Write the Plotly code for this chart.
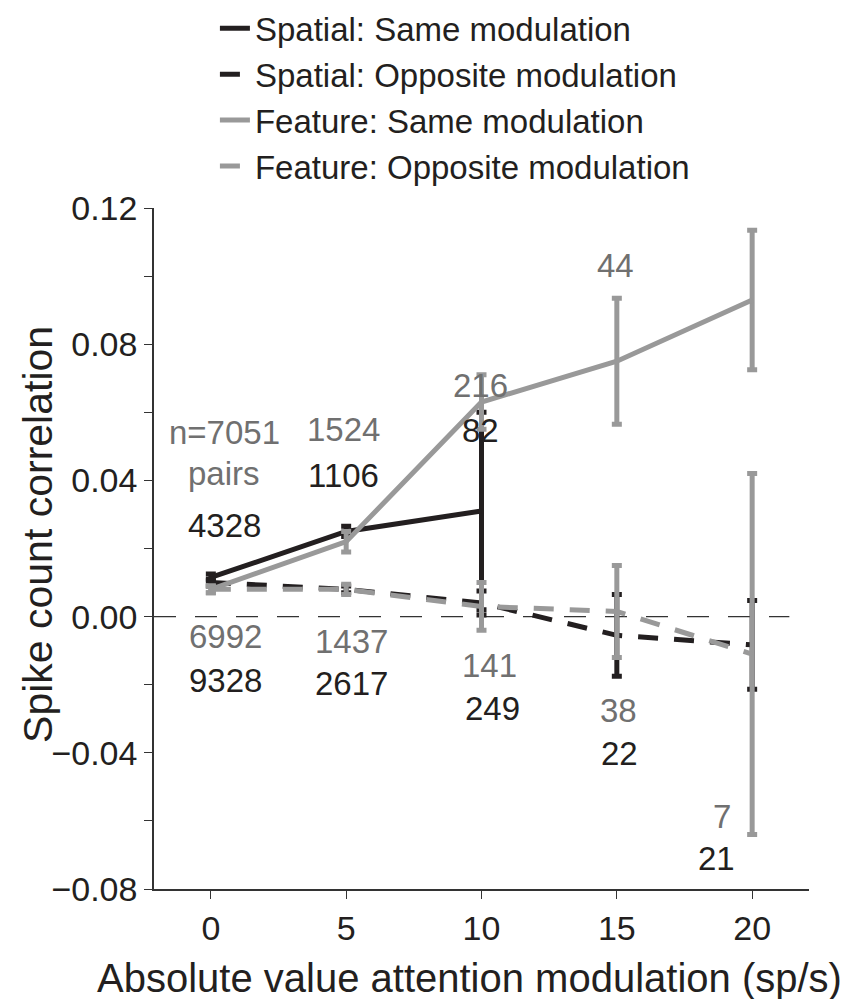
import plotly.graph_objects as go

# Attention modulation bins (sp/s)
x_bins = [0, 5, 10, 15, 20]

# Spike count correlation means and error bar half-widths
spatial_same_x = [0, 5, 10]
spatial_same_y = [0.0115, 0.025, 0.031]
spatial_same_err = [0.001, 0.0015, 0.029]

spatial_opp_y = [0.010, 0.008, 0.004, -0.0055, -0.0083]
spatial_opp_err = [0.001, 0.001, 0.0035, 0.012, 0.013]

feature_same_y = [0.008, 0.022, 0.063, 0.075, 0.093]
feature_same_err = [0.001, 0.003, 0.008, 0.0185, 0.0205]

feature_opp_y = [0.008, 0.008, 0.003, 0.0015, -0.011]
feature_opp_err = [0.001, 0.0015, 0.007, 0.0135, 0.053]

# pair counts printed on the chart
count_x = [0.5, 0.5, 0.5, 4.9, 4.9, 9.95, 9.95, 14.95, 19.9,
           0.55, 0.55, 5.2, 5.2, 10.3, 10.4, 15.05, 15.1, 18.9, 18.7]
count_y = [0.054, 0.042, 0.0267, 0.055, 0.0414, 0.0678, 0.0546, 0.103, 0.1232,
           -0.0059, -0.0188, -0.0073, -0.0197, -0.0144, -0.027, -0.0276, -0.0402, -0.0587, -0.071]
count_text = ["n=7051", "pairs", "4328", "1524", "1106", "216", "82", "44", "14",
              "6992", "9328", "1437", "2617", "141", "249", "38", "22", "7", "21"]
count_group = ["feature", "feature", "spatial", "feature", "spatial", "feature", "spatial", "feature", "feature",
               "feature", "spatial", "feature", "spatial", "feature", "spatial", "feature", "spatial", "feature", "spatial"]

y_tickvals = [-0.08, -0.06, -0.04, -0.02, 0.0, 0.02, 0.04, 0.06, 0.08, 0.10, 0.12]
y_ticktext = ["\u22120.08", "", "\u22120.04", "", "0.00", "", "0.04", "", "0.08", "", "0.12"]

BLACK = "#231f20"
GREY = "#999999"
GREY_TEXT = "#707070"
FONT = "Liberation Sans, Arial, sans-serif"

fig = go.Figure()


def add_series(x, y, err, color, dash, name):
    fig.add_trace(go.Scatter(
        x=x, y=y, name=name, mode="lines",
        line=dict(color=color, width=5, dash=dash),
        error_y=dict(type="data", array=err, visible=True,
                     color=color, thickness=5, width=5),
        cliponaxis=False,
    ))


add_series(spatial_same_x, spatial_same_y, spatial_same_err, BLACK, "solid", "Spatial: Same modulation")
add_series(x_bins, spatial_opp_y, spatial_opp_err, BLACK, "20px,16px", "Spatial: Opposite modulation")
add_series(x_bins, feature_same_y, feature_same_err, GREY, "solid", "Feature: Same modulation")
add_series(x_bins, feature_opp_y, feature_opp_err, GREY, "20px,16px", "Feature: Opposite modulation")

# zero reference line
fig.add_shape(type="line", xref="paper", yref="y", x0=0, x1=0.97, y0=0, y1=0,
              line=dict(color="#333333", width=1.3, dash="22px,19px"), layer="below")

for cx, cy, txt, grp in zip(count_x, count_y, count_text, count_group):
    fig.add_annotation(x=cx, y=cy, text=txt, showarrow=False,
                       font=dict(size=33, color=GREY_TEXT if grp == "feature" else BLACK))

# axis titles
fig.add_annotation(xref="paper", yref="paper", x=0.482, y=-0.131,
                   xanchor="center", yanchor="middle", showarrow=False,
                   text="Absolute value attention modulation (sp/s)",
                   font=dict(size=40, color=BLACK))
fig.add_annotation(xref="paper", yref="paper", x=-0.177, y=0.52,
                   xanchor="center", yanchor="middle", showarrow=False, textangle=-90,
                   text="Spike count correlation",
                   font=dict(size=41, color=BLACK))

fig.update_layout(
    width=855, height=999,
    margin=dict(l=146, r=54, t=200, b=118, autoexpand=False),
    paper_bgcolor="white", plot_bgcolor="white",
    font=dict(family=FONT, color=BLACK),
    showlegend=True,
    legend=dict(
        x=0.093, y=1.305,
        xanchor="left", yanchor="top",
        font=dict(size=33, color=BLACK),
        bgcolor="rgba(0,0,0,0)", tracegroupgap=0,
    ),
    xaxis=dict(
        range=[-2.1, 22.1], tickvals=x_bins,
        showline=True, linecolor="#333333", linewidth=1.5,
        ticks="outside", ticklen=8, tickcolor="#333333",
        showgrid=False, zeroline=False,
        tickfont=dict(size=34),
    ),
    yaxis=dict(
        range=[-0.08, 0.12], tickvals=y_tickvals, ticktext=y_ticktext,
        showline=True, linecolor="#333333", linewidth=1.5,
        ticks="outside", ticklen=8, tickcolor="#333333",
        showgrid=False, zeroline=False,
        tickfont=dict(size=34),
    ),
)

fig.write_html("out.html")
